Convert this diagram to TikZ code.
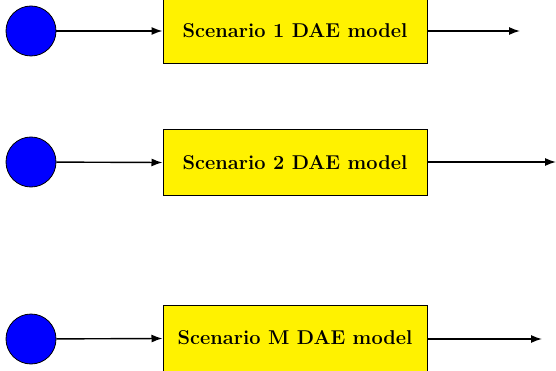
\documentclass[tikz,border=0pt]{standalone}
\usetikzlibrary{arrows.meta}
\begin{document}
\begin{tikzpicture}[x=1pt,y=-1pt,
  src/.style={circle,draw=black,fill=blue,minimum size=50pt,inner sep=0pt,line width=0.8pt},
  model/.style={rectangle,draw=black,fill=yellow,minimum width=264pt,minimum height=66pt,line width=1pt,font=\fontsize{20}{24}\selectfont\bfseries},
  flow/.style={line width=1.4pt,-{Latex[length=11pt,width=8pt]}}]
\useasboundingbox (0,0) rectangle (556,371);
\node[src] (c1) at (31,31) {};
\node[src] (c2) at (31,162) {};
\node[src] (c3) at (31,339) {};
\node[model] (m1) at (295,31) {Scenario 1 DAE model};
\node[model] (m2) at (295,163) {Scenario 2 DAE model};
\node[model] (m3) at (295,338) {Scenario M DAE model};
\coordinate (o1) at (520,31);
\coordinate (o2) at (556,162);
\coordinate (o3) at (542,339);
\draw[flow] (c1) -- (m1);
\draw[flow] (c2) -- (m2);
\draw[flow] (c3) -- (m3);
\draw[flow] (m1.east |- o1) -- (o1);
\draw[flow] (m2.east |- o2) -- (o2);
\draw[flow] (m3.east |- o3) -- (o3);
\end{tikzpicture}
\end{document}
